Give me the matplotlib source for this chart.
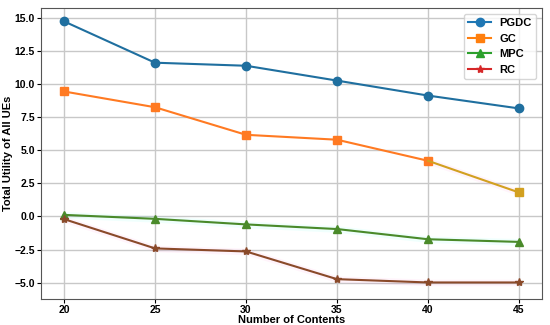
import matplotlib
matplotlib.use("Agg")
import matplotlib.pyplot as plt
from matplotlib.lines import Line2D
import numpy as np

plt.rcParams['font.family'] = ['Liberation Sans', 'DejaVu Sans']

contents = [20, 25, 30, 35, 40, 45]
pgdc = [14.72, 11.60, 11.37, 10.25, 9.12, 8.15]
gc = [9.43, 8.24, 6.16, 5.79, 4.20, 1.81]
mpc = [0.12, -0.18, -0.60, -0.95, -1.72, -1.92]
rc = [-0.20, -2.41, -2.64, -4.73, -4.98, -4.98]
labels = ['PGDC', 'GC', 'MPC', 'RC']

fig, ax = plt.subplots(figsize=(5.5, 3.25), dpi=100)
fig.subplots_adjust(left=0.075, right=0.985, top=0.975, bottom=0.08)

x = np.array(contents)
# faint bands
ax.fill_between(x, np.array(rc) - 0.25, np.array(rc) + 0.25, color='#ff66cc', alpha=0.07, lw=0)
ax.fill_between(x, np.array(mpc) - 0.25, np.array(mpc) + 0.25, color='#33ffee', alpha=0.07, lw=0)
ax.fill_between(x[4:], np.array(gc[4:]) - 0.25, np.array(gc[4:]) + 0.25, color='#ff66cc', alpha=0.07, lw=0)

ax.plot(x, pgdc, color='#1f6f9f', marker='o', ms=6, lw=1.5)
ax.plot(x[:5], gc[:5], color='#ff7a22', marker='s', ms=6, lw=1.5)
ax.plot(x[4:], gc[4:], color='#d2a020', lw=1.5)
ax.plot(x[5:], gc[5:], color='#d2a020', marker='s', ms=6, lw=0)
ax.plot(x, mpc, color='#4a8a2a', marker='^', ms=6, lw=1.5)
ax.plot(x, rc, color='#8a4a2a', marker='*', ms=6, lw=1.5)

ax.set_xticks(contents)
ax.set_yticks([-5.0, -2.5, 0.0, 2.5, 5.0, 7.5, 10.0, 12.5, 15.0])
ax.grid(True, color='#c8c8c8', lw=1)
ax.set_axisbelow(True)
ax.tick_params(labelsize=7.5, length=3, pad=1.5)
for t in ax.get_xticklabels() + ax.get_yticklabels():
    t.set_fontweight('bold')
ax.set_xlabel('Number of Contents', fontsize=8, fontweight='bold', labelpad=0)
ax.set_ylabel('Total Utility of All UEs', fontsize=8, fontweight='bold', labelpad=1)
for s in ax.spines.values():
    s.set_color('#555555')

handles = [
    Line2D([], [], color='#1f77b4', marker='o', ms=6, lw=1.5),
    Line2D([], [], color='#ff7f0e', marker='s', ms=6, lw=1.5),
    Line2D([], [], color='#2ca02c', marker='^', ms=6, lw=1.5),
    Line2D([], [], color='#d62728', marker='*', ms=6, lw=1.5),
]
leg = ax.legend(handles, labels, loc='upper right', prop={'weight': 'bold', 'size': 8})
fig.savefig('out.png', dpi=100)
